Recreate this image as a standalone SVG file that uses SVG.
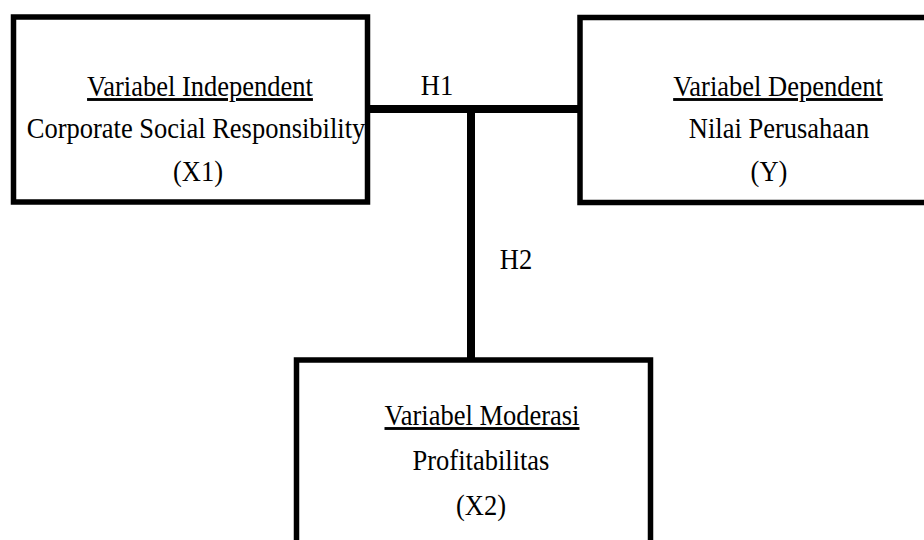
<svg xmlns="http://www.w3.org/2000/svg" width="924" height="540" viewBox="0 0 924 540">
<style>
.box{fill:#fff;stroke:#000;stroke-width:5.5}
.t{font-family:"Liberation Serif","Times New Roman",serif;font-size:26.5px;fill:#000;text-anchor:middle}
.u{text-decoration:underline}
.c{stroke:#000;stroke-width:8;fill:none}
</style>
<rect width="924" height="540" fill="#fff"/>
<g id="connectors">
<line class="c" x1="367" y1="109" x2="580" y2="109"/>
<line class="c" x1="471" y1="109" x2="471" y2="359"/>
<text class="t" x="437" y="95" transform="matrix(1,0,0,1.08,0,-7.6)">H1</text>
<text class="t" x="516" y="269" transform="matrix(1,0,0,1.08,0,-21.52)">H2</text>
</g>
<g id="x1">
<rect class="box" x="13.5" y="17" width="354" height="185"/>
<text class="t u" x="200" y="96" transform="matrix(1,0,0,1.08,0,-7.68)">Variabel Independent</text>
<text class="t" x="196" y="138" transform="matrix(1,0,0,1.08,0,-11.04)">Corporate Social Responsibility</text>
<text class="t" x="198" y="181" transform="matrix(1,0,0,1.08,0,-14.48)">(X1)</text>
</g>
<g id="y">
<rect class="box" x="580" y="17.5" width="370" height="185"/>
<text class="t u" x="778" y="96" transform="matrix(1,0,0,1.08,0,-7.68)">Variabel Dependent</text>
<text class="t" x="779" y="138" transform="matrix(1,0,0,1.08,0,-11.04)">Nilai Perusahaan</text>
<text class="t" x="769" y="181" transform="matrix(1,0,0,1.08,0,-14.48)">(Y)</text>
</g>
<g id="x2">
<rect class="box" x="296.5" y="360" width="354" height="200"/>
<text class="t u" x="482" y="425" transform="matrix(1,0,0,1.08,0,-34)">Variabel Moderasi</text>
<text class="t" x="481" y="470" transform="matrix(1,0,0,1.08,0,-37.6)">Profitabilitas</text>
<text class="t" x="481" y="515" transform="matrix(1,0,0,1.08,0,-41.2)">(X2)</text>
</g>
</svg>
